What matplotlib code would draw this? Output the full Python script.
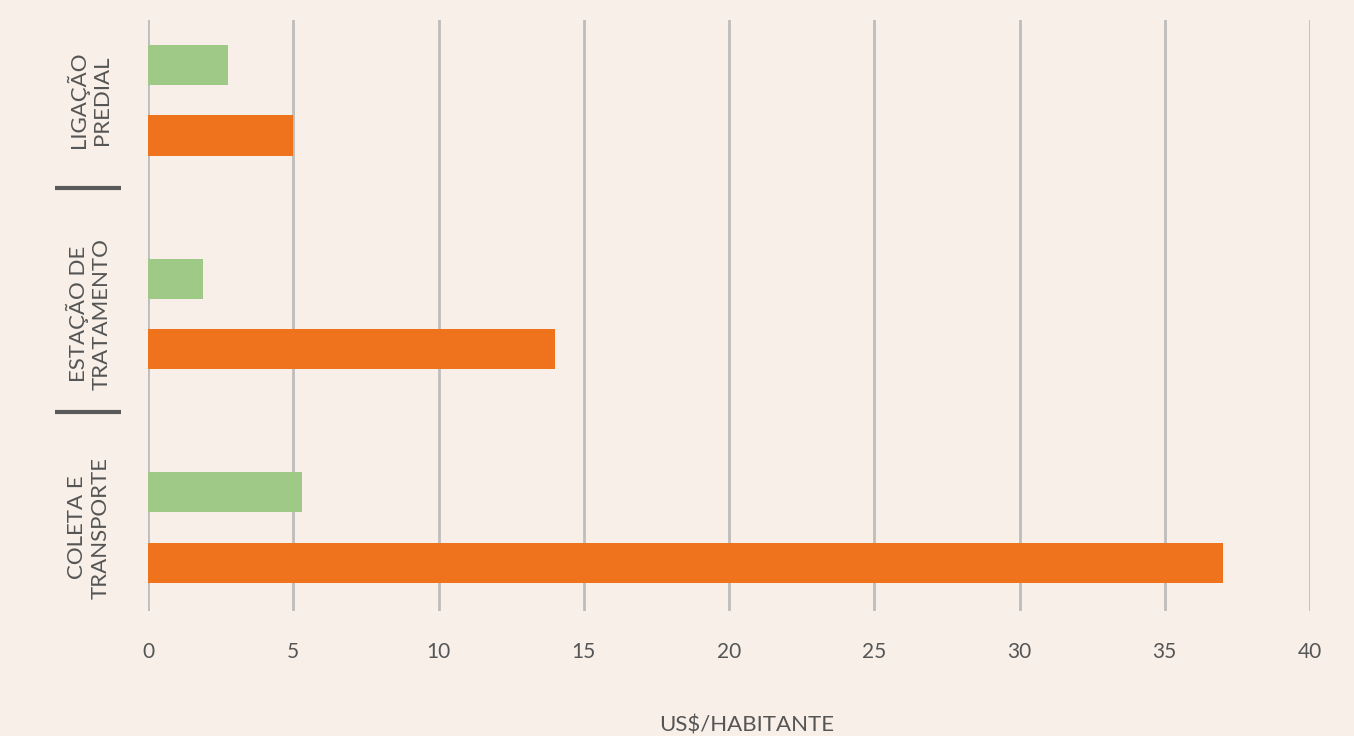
import numpy as np
import matplotlib.pyplot as plt

# data (US$/habitante)
categories = ['COLETA E\nTRANSPORTE', 'ESTAÇÃO DE\nTRATAMENTO', 'LIGAÇÃO\nPREDIAL']
green_vals = [5.3, 1.9, 2.75]
orange_vals = [37.0, 14.0, 5.0]
xticks = [0, 5, 10, 15, 20, 25, 30, 35, 40]

bg = '#F8F0E8'
green = '#9FC987'
orange = '#EE731C'
txt = '#555555'

plt.rcParams['font.family'] = ['Lato', 'DejaVu Sans']

fig = plt.figure(figsize=(13.54, 7.36), dpi=100, facecolor=bg)
W, H = 1354, 736
ax = fig.add_axes([148 / W, 1 - 611 / H, (1310 - 148) / W, (611 - 20) / H])
ax.set_facecolor(bg)

y = np.arange(len(categories))
off = 0.165
h = 0.188
ax.barh(y + off, green_vals, height=h, color=green, zorder=3)
ax.barh(y - off, orange_vals, height=h, color=orange, zorder=3)

ax.set_xlim(0, 40)
ax.set_ylim(-0.39, 2.375)
ax.set_xticks(xticks)
ax.set_xticklabels([str(t) for t in xticks], fontsize=15, color=txt)
ax.tick_params(axis='x', length=0, pad=22)
ax.set_yticks([])
ax.grid(axis='x', color='#BDBDBD', linewidth=2, zorder=0)
for s in ax.spines.values():
    s.set_visible(False)

# category labels and separators
for yi, lab in zip(y, categories):
    ax.text(-0.051, yi, lab, transform=ax.get_yaxis_transform(), rotation=90,
            ha='center', va='center', multialignment='center',
            fontsize=16, color=txt, linespacing=1.2)
for ys in [0.54, 1.59]:
    ax.plot([-0.080, -0.023], [ys, ys], transform=ax.get_yaxis_transform(),
            color='#595959', linewidth=3, clip_on=False, solid_capstyle='butt')

fig.text(747 / W, 1 - 725 / H, 'US$/HABITANTE', ha='center', va='center',
         fontsize=16, color=txt)

fig.savefig('out.png', dpi=100, facecolor=bg)
